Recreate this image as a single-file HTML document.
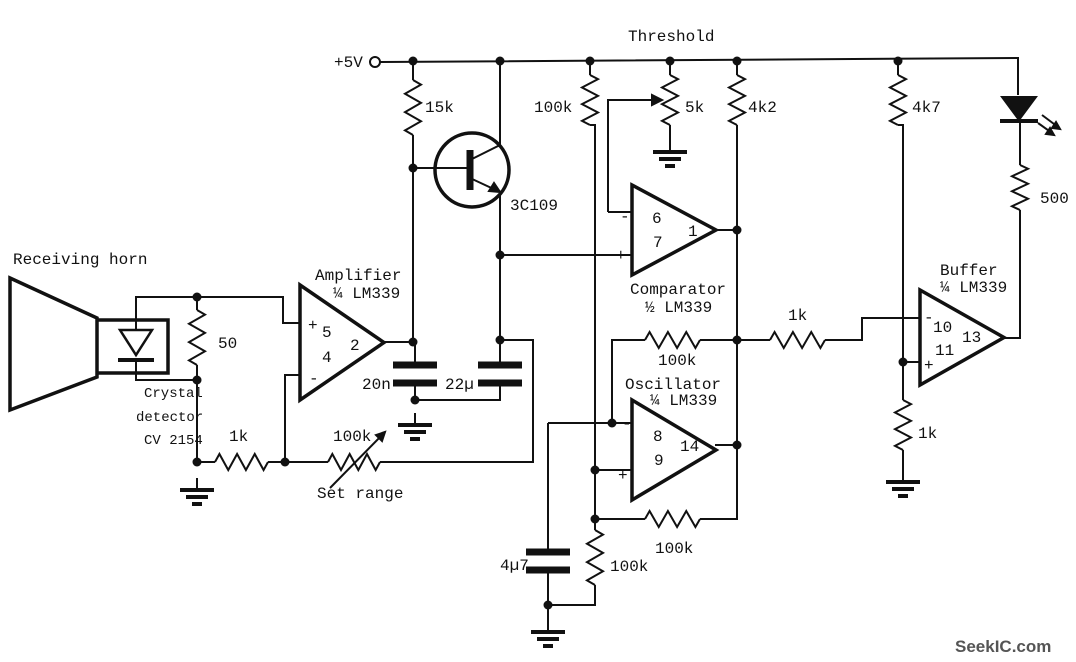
<!DOCTYPE html>
<html><head><meta charset="utf-8"><style>
html,body{margin:0;padding:0;background:#fff;}
svg{display:block;}
text{font-family:"Liberation Mono","DejaVu Sans Mono",monospace;font-size:16px;fill:#111;}
.sm{font-size:14px;}
</style></head><body>
<svg id="s" width="1076" height="662" viewBox="0 0 1076 662" xmlns="http://www.w3.org/2000/svg">
<g id="w" stroke="#111" stroke-width="2" fill="none"></g>
<g id="t">
<text x="628" y="41">Threshold</text>
<text x="334" y="67">+5V</text>
<text x="425" y="112">15k</text>
<text x="510" y="210">3C109</text>
<text x="534" y="112">100k</text>
<text x="685" y="112">5k</text>
<text x="748" y="112">4k2</text>
<text x="912" y="112">4k7</text>
<text x="1040" y="203">500</text>
<text x="13" y="264">Receiving horn</text>
<text x="315" y="280">Amplifier</text>
<text x="333" y="298">¼ LM339</text>
<text x="218" y="348">50</text>
<text class="sm" x="144" y="397">Crystal</text>
<text class="sm" x="136" y="421">detector</text>
<text class="sm" x="144" y="444">CV 2154</text>
<text x="229" y="441">1k</text>
<text x="333" y="441">100k</text>
<text x="317" y="498">Set range</text>
<text x="362" y="389">20n</text>
<text x="445" y="389">22µ</text>
<text x="630" y="294">Comparator</text>
<text x="645" y="312">½ LM339</text>
<text x="658" y="365">100k</text>
<text x="625" y="389">Oscillator</text>
<text x="650" y="405">¼ LM339</text>
<text x="788" y="320">1k</text>
<text x="940" y="275">Buffer</text>
<text x="940" y="292">¼ LM339</text>
<text x="918" y="438">1k</text>
<text x="655" y="553">100k</text>
<text x="610" y="571">100k</text>
<text x="500" y="570">4µ7</text>
<text x="620" y="221">-</text><text x="652" y="223">6</text>
<text x="616" y="260">+</text><text x="653" y="247">7</text><text x="688" y="236">1</text>
<text x="308" y="330">+</text><text x="322" y="337">5</text><text x="350" y="350">2</text>
<text x="322" y="362">4</text><text x="309" y="383">-</text>
<text x="622" y="428">-</text><text x="653" y="441">8</text><text x="680" y="451">14</text>
<text x="654" y="465">9</text><text x="618" y="480">+</text>
<text x="924" y="322">-</text><text x="933" y="332">10</text><text x="962" y="342">13</text>
<text x="935" y="355">11</text><text x="924" y="370">+</text>
<text x="955" y="652" style="font-family:'Liberation Sans',sans-serif;font-weight:bold;font-size:17px;fill:#555">SeekIC.com</text>
</g>
</svg>
<script>
var g=document.getElementById('w'),NS='http://www.w3.org/2000/svg';
function el(n,a){var e=document.createElementNS(NS,n);for(var k in a)e.setAttribute(k,a[k]);g.appendChild(e);return e;}
function L(){var p=[];for(var i=0;i<arguments.length;i+=2)p.push(arguments[i]+','+arguments[i+1]);el('polyline',{points:p.join(' ')});}
function dot(x,y){el('circle',{cx:x,cy:y,r:4.5,fill:'#111',stroke:'none'});}
function rv(x,a,b){var d=(b-a)/12,p=[x+','+a];for(var i=0;i<6;i++)p.push((x+(i%2?-8:8))+','+(a+d*(2*i+1)));p.push(x+','+b);el('polyline',{points:p.join(' ')});}
function rh(y,a,b){var d=(b-a)/12,p=[a+','+y];for(var i=0;i<6;i++)p.push((a+d*(2*i+1))+','+(y+(i%2?8:-8)));p.push(b+','+y);el('polyline',{points:p.join(' ')});}
function gnd(x,y){L(x,y-12,x,y);el('line',{x1:x-17,y1:y,x2:x+17,y2:y,'stroke-width':4});el('line',{x1:x-11,y1:y+7,x2:x+11,y2:y+7,'stroke-width':4});el('line',{x1:x-5,y1:y+14,x2:x+5,y2:y+14,'stroke-width':4});}
function cap(x,y){el('line',{x1:x-22,y1:y,x2:x+22,y2:y,'stroke-width':7});el('line',{x1:x-22,y1:y+18,x2:x+22,y2:y+18,'stroke-width':7});}
function amp(x,t,b){var tip=x+84;el('polygon',{points:x+','+t+' '+x+','+b+' '+tip+','+((t+b)/2),'stroke-width':3.5});}
el('circle',{cx:375,cy:62,r:5,fill:'#fff'});
L(380,62,1018,58,1018,95);
[413,500,590,670,737,898].forEach(function(x){dot(x,61);});
L(413,61,413,80);rv(413,80,135);L(413,135,413,342);dot(413,168);
el('circle',{cx:472,cy:170,r:37,'stroke-width':3.5});
L(413,168,468,168);el('line',{x1:470,y1:150,x2:470,y2:190,'stroke-width':7});
L(470,160,500,145,500,61);L(470,178,500,192);
el('polygon',{points:'500,192 489,191 494,183',fill:'#111'});
L(500,192,500,340);dot(500,255);L(500,255,632,255);dot(500,340);
L(500,340,533,340,533,462,380,462);
cap(415,365);L(415,342,415,365);L(415,383,415,400);dot(415,400);gnd(415,425);
L(415,400,500,400,500,383);cap(500,365);L(500,340,500,365);dot(413,342);
amp(300,285,400);L(384,342,413,342);
el('polygon',{points:'10,278 97,318 97,377 10,410','stroke-width':3.5});
el('polyline',{points:'97,320 168,320 168,373 97,373','stroke-width':3.5});
el('polygon',{points:'120,330 152,330 136,355','stroke-width':2.5});
el('line',{x1:118,y1:360,x2:154,y2:360,'stroke-width':4});
L(136,330,136,297,283,297,283,323,300,323);dot(197,297);
L(136,360,136,380,197,380);dot(197,380);
L(197,297,197,310);rv(197,310,365);L(197,365,197,462);dot(197,462);gnd(197,490);
rh(462,215,268);L(197,462,215,462);L(268,462,285,462);dot(285,462);L(285,462,285,375,300,375);
L(285,462,328,462);rh(462,328,380);
L(330,488,385,432);el('polygon',{points:'385,432 376,435 382,441',fill:'#111'});
L(590,61,590,75);rv(590,75,125);L(590,125,595,125,595,519);
L(670,61,670,75);rv(670,75,125);L(670,125,670,140);gnd(670,152);
L(608,212,608,100,658,100);el('polygon',{points:'662,100 652,95 652,105',fill:'#111'});
L(608,212,632,212);
L(737,61,737,75);rv(737,75,125);L(737,125,737,519,700,519);
amp(632,185,275);L(715,230,737,230);dot(737,230);
amp(632,400,500);L(715,445,737,445);dot(737,445);dot(737,340);
L(548,423,632,423);dot(612,423);L(612,423,612,340,645,340);rh(340,645,700);L(700,340,737,340);
dot(595,470);L(595,470,632,470);dot(595,519);L(595,519,645,519);rh(519,645,700);
rv(595,530,585);L(595,519,595,530);L(595,585,595,605,548,605);dot(548,605);
L(548,423,548,552);cap(548,552);L(548,570,548,620);gnd(548,632);
L(737,340,770,340);rh(340,770,825);L(825,340,862,340,862,318,920,318);
L(898,61,898,75);rv(898,75,125);L(898,125,903,125,903,400);dot(903,362);L(903,362,920,362);
rv(903,400,450);L(903,450,903,470);gnd(903,482);
amp(920,290,385);L(1004,338,1020,338,1020,210);rv(1020,165,210);L(1020,122,1020,165);
el('polygon',{points:'1002,97 1036,97 1019,120',fill:'#111'});
el('line',{x1:1000,y1:121,x2:1038,y2:121,'stroke-width':4});
L(1038,123,1052,133);L(1042,115,1058,127);
el('polygon',{points:'1054,135 1046,134 1050,128',fill:'#111'});
el('polygon',{points:'1060,129 1052,128 1056,122',fill:'#111'});
</script>
</body></html>
